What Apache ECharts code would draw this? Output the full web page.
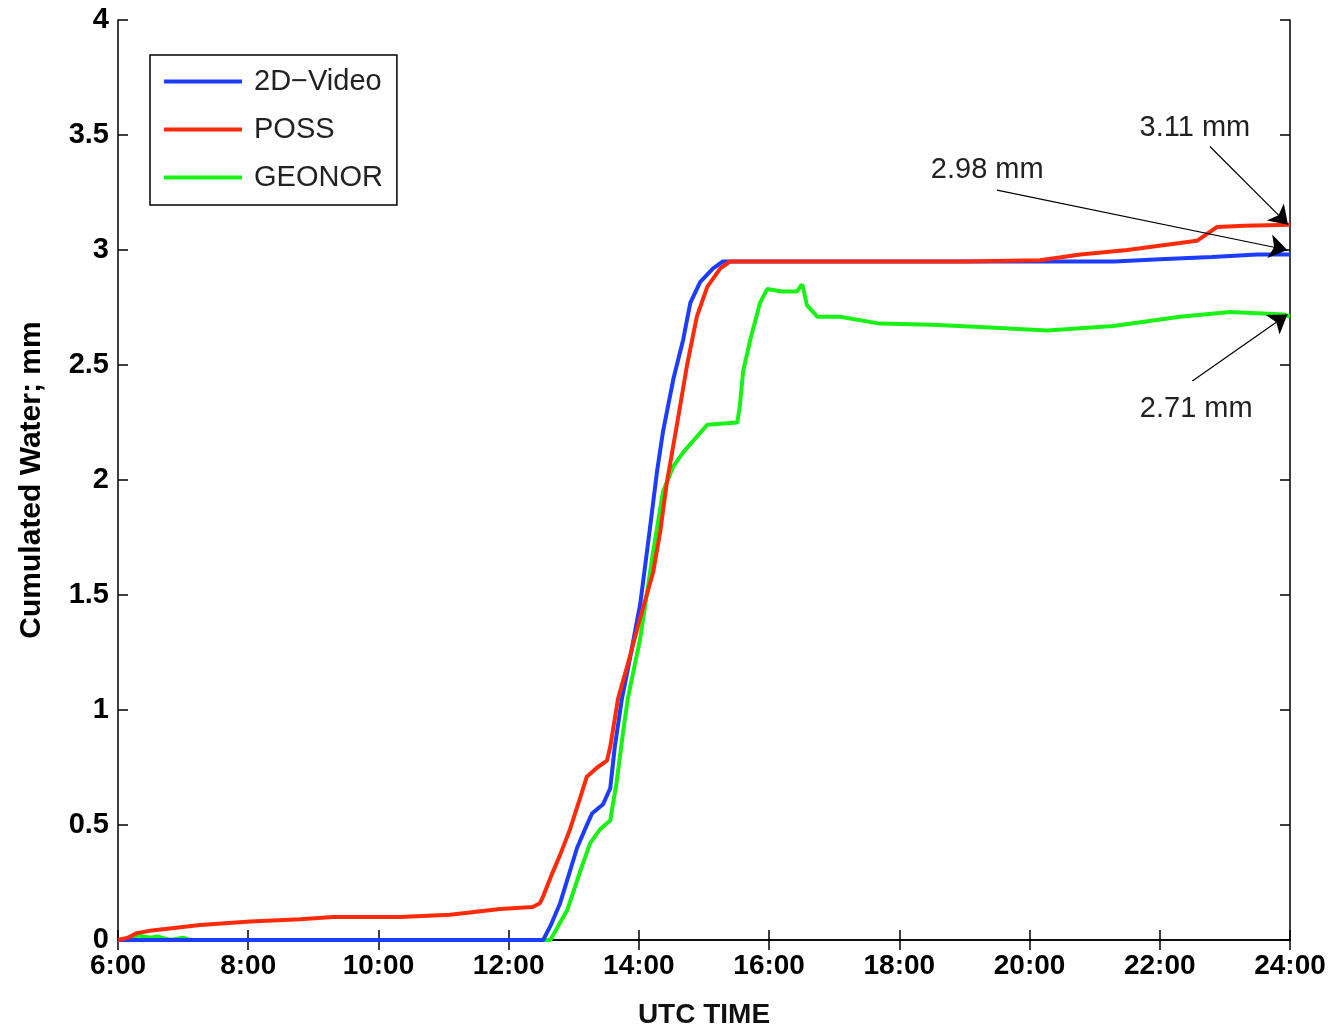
<!DOCTYPE html>
<html>
<head>
<meta charset="utf-8">
<script src="https://cdn.jsdelivr.net/npm/echarts@6/dist/echarts.min.js"></script>
<style>html,body{margin:0;padding:0;background:#fff}#c{width:1333px;height:1034px}</style>
</head>
<body>
<div id="c"></div>
<script>
// Time in decimal hours UTC, value = cumulated water (mm)
const videoTime = [6.0, 12.53, 12.64, 12.79, 12.92, 13.05, 13.17, 13.28, 13.45, 13.56, 13.63, 13.74, 13.86, 14.02, 14.17, 14.28, 14.37, 14.53, 14.68, 14.79, 14.94, 15.14, 15.29, 15.6, 17.0, 19.0, 20.5, 21.3, 22.0, 22.8, 23.5, 24.0];
const videoVal  = [0.0, 0.0, 0.06, 0.16, 0.28, 0.40, 0.48, 0.55, 0.59, 0.66, 0.84, 1.05, 1.22, 1.46, 1.79, 2.04, 2.21, 2.44, 2.61, 2.77, 2.86, 2.92, 2.95, 2.95, 2.95, 2.95, 2.95, 2.95, 2.96, 2.97, 2.98, 2.98];

const possTime = [6.0, 6.15, 6.29, 6.49, 7.26, 8.03, 8.8, 9.3, 10.33, 11.1, 11.87, 12.37, 12.48, 12.53, 12.64, 12.79, 12.94, 13.1, 13.2, 13.36, 13.51, 13.56, 13.68, 13.85, 14.02, 14.22, 14.33, 14.43, 14.59, 14.74, 14.89, 15.05, 15.25, 15.4, 17.0, 19.0, 20.16, 20.78, 21.5, 22.31, 22.57, 22.88, 23.3, 24.0];
const possVal  = [0.0, 0.01, 0.03, 0.04, 0.065, 0.08, 0.09, 0.10, 0.10, 0.11, 0.135, 0.143, 0.16, 0.19, 0.27, 0.37, 0.48, 0.62, 0.71, 0.75, 0.78, 0.84, 1.05, 1.22, 1.40, 1.60, 1.78, 1.99, 2.25, 2.50, 2.71, 2.84, 2.92, 2.95, 2.95, 2.95, 2.955, 2.98, 3.0, 3.03, 3.04, 3.10, 3.105, 3.11];

const geonorTime = [6.0, 6.2, 6.3, 6.5, 6.6, 6.8, 7.0, 7.1, 12.64, 12.9, 13.1, 13.25, 13.4, 13.56, 13.66, 13.76, 13.83, 14.02, 14.22, 14.37, 14.53, 14.68, 15.05, 15.51, 15.55, 15.6, 15.71, 15.86, 15.97, 16.2, 16.43, 16.5, 16.52, 16.58, 16.74, 17.09, 17.7, 18.5, 19.24, 20.27, 21.29, 22.31, 23.08, 23.9, 24.0];
const geonorVal  = [0.0, 0.0, 0.02, 0.01, 0.015, 0.0, 0.01, 0.0, 0.0, 0.13, 0.30, 0.42, 0.48, 0.52, 0.69, 0.91, 1.05, 1.31, 1.69, 1.95, 2.06, 2.12, 2.24, 2.25, 2.32, 2.47, 2.61, 2.77, 2.83, 2.82, 2.82, 2.85, 2.84, 2.76, 2.71, 2.71, 2.68, 2.675, 2.665, 2.65, 2.67, 2.71, 2.73, 2.72, 2.71];

// Annotations: [label, textTime, textVal, arrowFromTime, arrowFromVal, arrowToTime, arrowToVal]
const notes = [
  ['3.11 mm', 22.54, 3.53, 22.77, 3.45, 23.97, 3.11],
  ['2.98 mm', 19.35, 3.35, 19.5, 3.26, 23.96, 3.0],
  ['2.71 mm', 22.56, 2.31, 22.5, 2.43, 23.96, 2.72]
];

const xTicks = [6, 8, 10, 12, 14, 16, 18, 20, 22, 24];

const zip = (t, v) => t.map((x, i) => [x, v[i]]);
const FONT = 'Liberation Sans, Arial, Helvetica, sans-serif';

const chart = echarts.init(document.getElementById('c'), null, {renderer: 'canvas'});
const axisCommon = {
  axisLine: {show: true, lineStyle: {color: '#000', width: 1.5}},
  axisTick: {show: true, inside: true, length: 10, lineStyle: {color: '#000', width: 1.5}},
  splitLine: {show: false}
};

chart.setOption({
  animation: false,
  backgroundColor: '#fff',
  grid: {left: 118, right: 43, top: 20, bottom: 91, containLabel: false},
  legend: {
    orient: 'vertical', left: 150, top: 55,
    data: ['2D\u2212Video', 'POSS', 'GEONOR'],
    icon: 'rect',
    backgroundColor: '#fff',
    borderColor: '#000', borderWidth: 1.5, borderRadius: 0,
    padding: [12, 14, 13, 14],
    itemWidth: 78, itemHeight: 4, itemGap: 19,
    textStyle: {fontFamily: FONT, fontSize: 29, color: '#222', padding: [0, 0, 0, 7]}
  },
  xAxis: [
    Object.assign({
      type: 'value', min: 6, max: 24, interval: 2, position: 'bottom',
      name: 'UTC TIME', nameLocation: 'middle', nameGap: 61,
      nameTextStyle: {fontFamily: FONT, fontSize: 28, fontWeight: 'bold', color: '#111'},
      axisLabel: {fontFamily: FONT, fontSize: 28, fontWeight: 'bold', color: '#000', margin: 12,
        formatter: v => xTicks.indexOf(v) >= 0 ? v + ':00' : ''}
    }, axisCommon),
    Object.assign({
      type: 'value', min: 6, max: 24, interval: 2, position: 'top',
      axisLabel: {show: false}
    }, axisCommon)
  ],
  yAxis: [
    Object.assign({
      type: 'value', min: 0, max: 4, interval: 0.5, position: 'left',
      name: 'Cumulated Water; mm', nameLocation: 'middle', nameGap: 71,
      nameTextStyle: {fontFamily: FONT, fontSize: 30, fontWeight: 'bold', color: '#000'},
      axisLabel: {fontFamily: FONT, fontSize: 29, fontWeight: 'bold', color: '#000', margin: 9,
        formatter: v => String(v)}
    }, axisCommon),
    Object.assign({
      type: 'value', min: 0, max: 4, interval: 0.5, position: 'right',
      axisLabel: {show: false}
    }, axisCommon)
  ],
  series: [
    {
      name: '2D\u2212Video', type: 'line', data: zip(videoTime, videoVal),
      symbol: 'none', z: 3, color: '#1c3cff',
      lineStyle: {color: '#1c3cff', width: 4}
    },
    {
      name: 'POSS', type: 'line', data: zip(possTime, possVal),
      symbol: 'none', z: 4, color: '#ff2a0a',
      lineStyle: {color: '#ff2a0a', width: 4},
      markLine: {
        silent: true, symbol: ['none', 'arrow'], symbolSize: 18,
        lineStyle: {color: '#000', width: 1.2, type: 'solid'},
        itemStyle: {color: '#000'},
        label: {show: false},
        data: notes.map(n => [{coord: [n[3], n[4]]}, {coord: [n[5], n[6]]}])
      },
      markPoint: {
        silent: true, symbol: 'circle', symbolSize: 0,
        label: {show: true, position: 'inside', fontFamily: FONT, fontSize: 29, color: '#222',
          formatter: p => p.name},
        data: notes.map(n => ({name: n[0], coord: [n[1], n[2]]}))
      }
    },
    {
      name: 'GEONOR', type: 'line', data: zip(geonorTime, geonorVal),
      symbol: 'none', z: 2, color: '#18f214',
      lineStyle: {color: '#18f214', width: 4}
    }
  ]
});
</script>
</body>
</html>
